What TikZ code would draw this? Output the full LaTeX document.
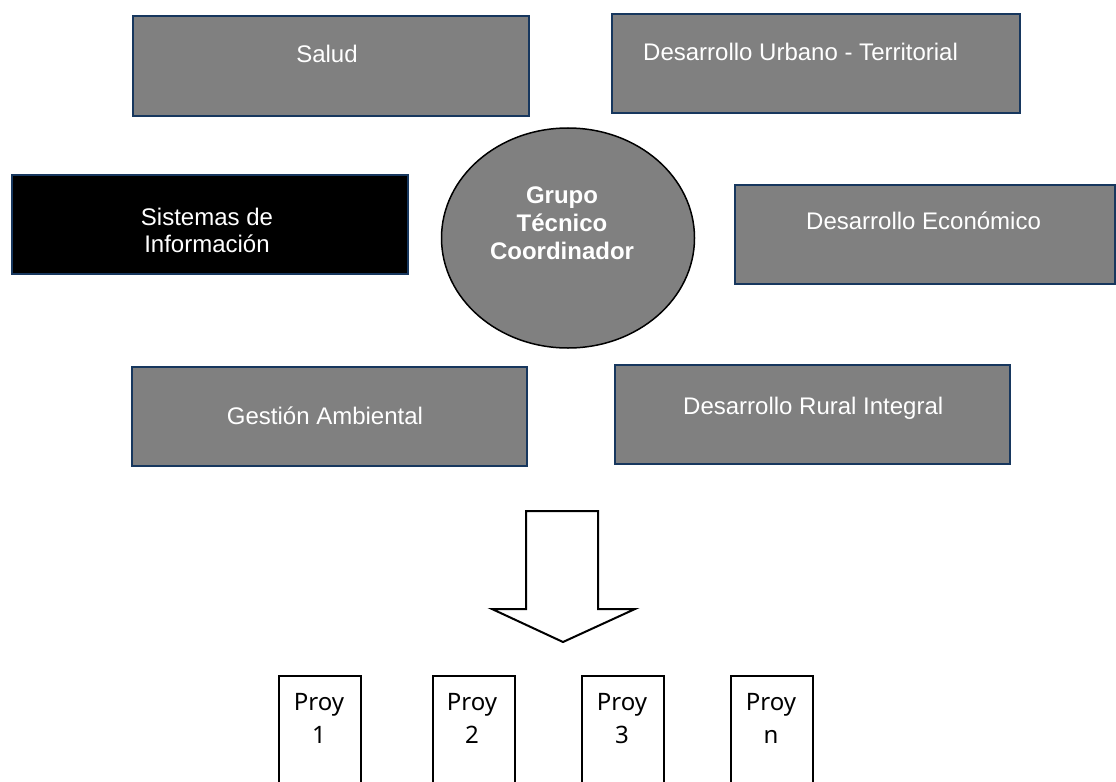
\documentclass[tikz,border=0pt]{standalone}
\usepackage{fontspec}
\setmainfont{Liberation Sans}
\newfontfamily\proyfont{Noto Sans}
\usetikzlibrary{shapes.geometric}
\definecolor{boxgray}{RGB}{128,128,128}
\definecolor{boxedge}{RGB}{23,55,94}

\begin{document}
\begin{tikzpicture}[x=1bp,y=-1bp,
  area/.style={draw=boxedge, line width=2bp, fill=boxgray, inner sep=0pt,
    anchor=north west},
  darkarea/.style={area, fill=black},
  lbl/.style={text=white, font=\fontsize{24bp}{27bp}\selectfont, inner sep=0pt,
    align=center},
  core/.style={ellipse, draw=black, line width=1.5bp, fill=boxgray,
    minimum width=253bp, minimum height=220bp, inner sep=0pt},
  corelbl/.style={text=white, font=\bfseries\fontsize{24bp}{28bp}\selectfont,
    inner sep=0pt, align=center},
  proybox/.style={draw=black, line width=2bp, fill=white, anchor=north west,
    minimum width=82bp, minimum height=140bp, inner sep=0pt},
  proylbl/.style={font=\proyfont\fontsize{24bp}{32.5bp}\selectfont,
    align=center, inner sep=0pt, anchor=base},
  bigarrow/.style={draw=black, line width=2bp, fill=white, line join=miter}]
\useasboundingbox (0,0) rectangle (1116,782);
\clip (0,0) rectangle (1116,782);

% thematic areas around the coordinating group
% (for multi-line labels the base anchor sits on the last line)
\node[area, minimum width=396bp, minimum height=100bp] (salud) at (132,15) {};
\node[lbl, anchor=base] (saludtxt) at (327,63) {Salud};

\node[area, minimum width=408bp, minimum height=99bp] (urbano) at (611,13) {};
\node[lbl, anchor=base west] (urbanotxt) at (643,61) {Desarrollo Urbano - Territorial};

\node[darkarea, minimum width=396bp, minimum height=99bp] (sistemas) at (11,174) {};
\node[lbl, anchor=base] (sistemastxt) at (207,252) {Sistemas de\\Información};

\node[area, minimum width=380bp, minimum height=99bp] (economico) at (734,184) {};
\node[lbl, anchor=base west] (economicotxt) at (806,229) {Desarrollo Económico};

\node[area, minimum width=395bp, minimum height=99bp] (ambiental) at (131,366) {};
\node[lbl, anchor=base] (ambientaltxt) at (325,424) {Gestión Ambiental};

\node[area, minimum width=395bp, minimum height=99bp] (rural) at (614,364) {};
\node[lbl, anchor=base west] (ruraltxt) at (683,414) {Desarrollo Rural Integral};

% coordinating group
\node[core] (grupo) at (568,238) {};
\node[corelbl, anchor=base] (grupotxt) at (562,259) {Grupo\\Técnico\\Coordinador};

% block arrow towards the projects
\draw[bigarrow] (526,511) -- (598,511) -- (598,609) -- (635,609) -- (563,642)
  -- (492,609) -- (526,609) -- cycle;

% projects
\node[proybox] (p1) at (278,675) {};
\node[proylbl] (p1txt) at (319,743) {Proy\\1};
\node[proybox] (p2) at (432,675) {};
\node[proylbl] (p2txt) at (472,743) {Proy\\2};
\node[proybox] (p3) at (581,675) {};
\node[proylbl] (p3txt) at (622,743) {Proy\\3};
\node[proybox] (pn) at (730,675) {};
\node[proylbl] (pntxt) at (771,743) {Proy\\n};
\end{tikzpicture}
\end{document}
